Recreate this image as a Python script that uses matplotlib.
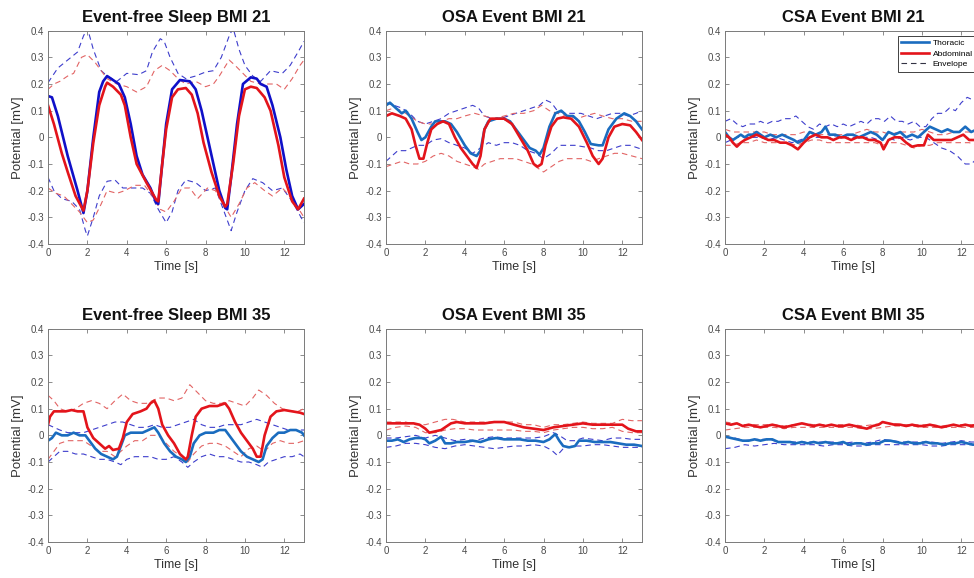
import numpy as np
import matplotlib
matplotlib.use("Agg")
import matplotlib.pyplot as plt

plt.rcParams['font.family'] = ['Liberation Sans', 'DejaVu Sans']

#---------------- values (time [s], potential [mV]) ----------------#

# Event-free Sleep BMI 21
ef21_tho = [(0, 0.155), (0.2, 0.15), (0.5, 0.08), (1.0, -0.07), (1.5, -0.2), (1.8, -0.284), (2.0, -0.2),
            (2.3, 0.0), (2.6, 0.17), (2.8, 0.21), (3.0, 0.23), (3.2, 0.22), (3.6, 0.2), (3.9, 0.15),
            (4.2, 0.05), (4.5, -0.07), (4.8, -0.14), (5.2, -0.19), (5.5, -0.245), (5.6, -0.25),
            (5.8, -0.1), (6.0, 0.05), (6.3, 0.18), (6.7, 0.215), (7.2, 0.21), (7.5, 0.18), (7.8, 0.1),
            (8.1, 0.0), (8.4, -0.1), (8.7, -0.2), (9.0, -0.265), (9.1, -0.27), (9.3, -0.15), (9.6, 0.05),
            (9.9, 0.2), (10.3, 0.225), (10.6, 0.22), (10.8, 0.2), (11.1, 0.19), (11.4, 0.12), (11.8, 0.0),
            (12.1, -0.12), (12.4, -0.22), (12.7, -0.27), (13.0, -0.25)]
ef21_abd = [(0, 0.12), (0.3, 0.05), (0.7, -0.06), (1.0, -0.13), (1.4, -0.22), (1.8, -0.275), (2.0, -0.2),
            (2.3, -0.02), (2.6, 0.12), (2.9, 0.19), (3.0, 0.205), (3.3, 0.19), (3.7, 0.16), (3.9, 0.12),
            (4.2, 0.0), (4.5, -0.1), (5.0, -0.17), (5.5, -0.235), (5.6, -0.24), (5.8, -0.1), (6.0, 0.03),
            (6.3, 0.15), (6.6, 0.18), (7.0, 0.185), (7.3, 0.16), (7.6, 0.09), (7.9, -0.02), (8.3, -0.13),
            (8.7, -0.22), (9.0, -0.26), (9.1, -0.25), (9.4, -0.1), (9.7, 0.08), (10.0, 0.18), (10.3, 0.19),
            (10.6, 0.185), (11.0, 0.15), (11.3, 0.1), (11.7, -0.03), (12.0, -0.15), (12.4, -0.24),
            (12.7, -0.27), (13.0, -0.23)]
ef21_tho_up = [(0, 0.205), (0.5, 0.26), (1.0, 0.29), (1.5, 0.32), (1.8, 0.38), (2.0, 0.41), (2.3, 0.33),
               (2.7, 0.25), (3.0, 0.23), (3.5, 0.21), (4.0, 0.24), (4.6, 0.235), (5.0, 0.25), (5.3, 0.32),
               (5.7, 0.37), (5.9, 0.36), (6.2, 0.3), (6.6, 0.24), (7.0, 0.22), (7.5, 0.23), (8.0, 0.245),
               (8.4, 0.25), (8.8, 0.3), (9.2, 0.38), (9.4, 0.41), (9.7, 0.33), (10.0, 0.27), (10.4, 0.23),
               (10.8, 0.21), (11.3, 0.25), (11.9, 0.24), (12.3, 0.27), (12.7, 0.32), (13.0, 0.36)]
ef21_tho_lo = [(0, -0.15), (0.3, -0.2), (0.7, -0.23), (1.2, -0.24), (1.6, -0.27), (1.9, -0.35), (2.0, -0.37),
               (2.3, -0.3), (2.6, -0.22), (3.0, -0.165), (3.4, -0.16), (3.8, -0.19), (4.3, -0.19),
               (4.8, -0.19), (5.2, -0.21), (5.6, -0.27), (6.0, -0.32), (6.3, -0.28), (6.6, -0.2),
               (7.0, -0.16), (7.5, -0.17), (8.0, -0.2), (8.5, -0.19), (8.9, -0.27), (9.3, -0.35),
               (9.6, -0.28), (10.0, -0.2), (10.4, -0.155), (10.9, -0.17), (11.4, -0.2), (11.9, -0.19),
               (12.4, -0.24), (13.0, -0.32)]
ef21_abd_up = [(0, 0.18), (0.3, 0.2), (0.6, 0.21), (1.0, 0.23), (1.3, 0.24), (1.7, 0.3), (2.0, 0.31),
               (2.4, 0.28), (2.7, 0.25), (3.0, 0.22), (3.5, 0.2), (4.0, 0.19), (4.5, 0.17), (5.0, 0.19),
               (5.4, 0.25), (5.8, 0.27), (6.2, 0.25), (6.6, 0.22), (7.0, 0.2), (7.5, 0.21), (8.0, 0.19),
               (8.4, 0.2), (8.7, 0.23), (9.2, 0.29), (9.5, 0.27), (9.9, 0.24), (10.3, 0.21), (10.8, 0.2),
               (11.2, 0.2), (11.6, 0.2), (12.0, 0.18), (12.4, 0.22), (12.8, 0.27), (13.0, 0.29)]
ef21_abd_lo = [(0, -0.19), (0.4, -0.21), (0.8, -0.22), (1.2, -0.25), (1.6, -0.28), (2.0, -0.32),
               (2.3, -0.31), (2.7, -0.25), (3.0, -0.2), (3.5, -0.21), (3.9, -0.2), (4.4, -0.18),
               (4.9, -0.18), (5.3, -0.22), (5.7, -0.27), (6.0, -0.28), (6.4, -0.24), (6.8, -0.19),
               (7.2, -0.19), (7.6, -0.23), (8.1, -0.19), (8.5, -0.2), (8.9, -0.25), (9.3, -0.3),
               (9.7, -0.25), (10.1, -0.19), (10.5, -0.17), (11.0, -0.2), (11.4, -0.22), (11.9, -0.19),
               (12.4, -0.23), (13.0, -0.3)]

# OSA Event BMI 21
osa21_tho = [(0, 0.12), (0.2, 0.13), (0.5, 0.11), (0.8, 0.09), (1.0, 0.1), (1.3, 0.07), (1.6, 0.02),
             (1.8, -0.01), (2.0, 0.0), (2.3, 0.04), (2.5, 0.06), (2.8, 0.06), (3.0, 0.06), (3.3, 0.05),
             (3.6, 0.02), (4.0, -0.03), (4.3, -0.06), (4.6, -0.07), (4.8, -0.05), (5.0, 0.03), (5.2, 0.06),
             (5.6, 0.07), (6.0, 0.07), (6.3, 0.06), (6.6, 0.03), (7.0, -0.01), (7.3, -0.04), (7.6, -0.05),
             (7.8, -0.065), (8.0, -0.04), (8.3, 0.04), (8.6, 0.09), (8.9, 0.1), (9.2, 0.08), (9.5, 0.08),
             (9.8, 0.06), (10.1, 0.02), (10.4, -0.025), (10.8, -0.03), (11.0, -0.03), (11.3, 0.03),
             (11.7, 0.07), (12.1, 0.09), (12.4, 0.08), (12.7, 0.06), (13.0, 0.03)]
osa21_abd = [(0, 0.08), (0.3, 0.09), (0.7, 0.08), (1.0, 0.07), (1.3, 0.03), (1.5, -0.03), (1.7, -0.08),
             (1.9, -0.08), (2.1, -0.02), (2.3, 0.03), (2.6, 0.05), (2.9, 0.06), (3.2, 0.05), (3.5, 0.0),
             (3.8, -0.04), (4.1, -0.07), (4.4, -0.1), (4.6, -0.115), (4.8, -0.07), (5.0, 0.03), (5.3, 0.07),
             (5.6, 0.07), (6.0, 0.07), (6.4, 0.05), (6.8, 0.0), (7.2, -0.05), (7.5, -0.1), (7.7, -0.11),
             (7.9, -0.1), (8.1, -0.03), (8.4, 0.04), (8.7, 0.07), (9.0, 0.075), (9.4, 0.07), (9.8, 0.04),
             (10.2, -0.02), (10.5, -0.07), (10.8, -0.1), (11.0, -0.08), (11.3, 0.0), (11.6, 0.04),
             (12.0, 0.05), (12.4, 0.045), (12.7, 0.02), (13.0, -0.01)]
osa21_tho_up = [(0, 0.13), (0.4, 0.12), (0.8, 0.11), (1.2, 0.09), (1.6, 0.06), (2.0, 0.05), (2.4, 0.06),
                (2.8, 0.07), (3.2, 0.09), (3.6, 0.1), (4.0, 0.11), (4.4, 0.12), (4.7, 0.11), (5.0, 0.08),
                (5.4, 0.07), (5.8, 0.07), (6.2, 0.08), (6.6, 0.09), (7.0, 0.1), (7.4, 0.11), (7.8, 0.12),
                (8.1, 0.14), (8.4, 0.13), (8.7, 0.1), (9.1, 0.09), (9.5, 0.09), (9.9, 0.09), (10.3, 0.08),
                (10.7, 0.07), (11.1, 0.08), (11.5, 0.09), (11.9, 0.09), (12.3, 0.08), (12.7, 0.09), (13.0, 0.1)]
osa21_tho_lo = [(0, -0.09), (0.3, -0.07), (0.6, -0.05), (1.0, -0.05), (1.3, -0.04), (1.6, -0.03),
                (2.0, -0.03), (2.4, -0.01), (2.8, -0.005), (3.2, -0.02), (3.6, -0.03), (4.0, -0.04),
                (4.4, -0.06), (4.8, -0.04), (5.2, -0.02), (5.6, -0.03), (6.0, -0.02), (6.4, -0.02),
                (6.8, -0.03), (7.2, -0.05), (7.6, -0.06), (8.0, -0.08), (8.4, -0.06), (8.8, -0.03),
                (9.2, -0.03), (9.6, -0.03), (10.0, -0.035), (10.4, -0.04), (10.8, -0.05), (11.2, -0.05),
                (11.6, -0.04), (12.0, -0.03), (12.4, -0.03), (12.8, -0.04), (13.0, -0.045)]
osa21_abd_up = [(0, 0.1), (0.4, 0.11), (0.8, 0.1), (1.2, 0.08), (1.6, 0.06), (2.0, 0.05), (2.4, 0.05),
                (2.8, 0.06), (3.2, 0.07), (3.6, 0.07), (4.0, 0.08), (4.5, 0.09), (5.0, 0.08), (5.5, 0.07),
                (6.0, 0.08), (6.5, 0.09), (7.0, 0.09), (7.5, 0.1), (7.9, 0.12), (8.3, 0.1), (8.7, 0.09),
                (9.2, 0.08), (9.7, 0.07), (10.1, 0.08), (10.6, 0.09), (11.0, 0.08), (11.5, 0.07),
                (12.0, 0.07), (12.5, 0.06), (13.0, 0.06)]
osa21_abd_lo = [(0, -0.11), (0.4, -0.1), (0.8, -0.09), (1.2, -0.1), (1.6, -0.1), (2.0, -0.09), (2.4, -0.07),
                (2.8, -0.06), (3.2, -0.07), (3.6, -0.09), (4.0, -0.1), (4.4, -0.11), (4.7, -0.12),
                (5.0, -0.1), (5.4, -0.09), (5.8, -0.08), (6.2, -0.08), (6.6, -0.08), (7.0, -0.09),
                (7.4, -0.1), (7.8, -0.12), (8.0, -0.13), (8.4, -0.11), (8.8, -0.09), (9.2, -0.08),
                (9.6, -0.08), (10.0, -0.08), (10.4, -0.09), (10.8, -0.08), (11.2, -0.07), (11.6, -0.06),
                (12.0, -0.06), (12.5, -0.07), (13.0, -0.08)]

# CSA Event BMI 21
csa21_tho = [(0, 0.02), (0.2, 0.0), (0.4, -0.01), (0.6, 0.0), (0.8, 0.01), (1.0, 0.0), (1.2, 0.01),
             (1.4, 0.01), (1.6, 0.02), (1.8, 0.01), (2.0, 0.0), (2.3, 0.01), (2.6, 0.0), (2.9, 0.01),
             (3.2, 0.0), (3.5, -0.01), (3.7, -0.02), (4.0, -0.01), (4.3, 0.02), (4.6, 0.01), (4.9, 0.02),
             (5.1, 0.04), (5.3, 0.01), (5.6, 0.01), (5.9, 0.0), (6.2, 0.01), (6.5, 0.01), (6.8, 0.0),
             (7.1, 0.01), (7.4, 0.02), (7.7, 0.01), (8.0, -0.01), (8.3, 0.02), (8.6, 0.01), (8.9, 0.02),
             (9.2, 0.0), (9.5, 0.01), (9.8, 0.0), (10.1, 0.02), (10.4, 0.04), (10.7, 0.03), (11.0, 0.02),
             (11.3, 0.03), (11.6, 0.02), (11.9, 0.02), (12.2, 0.04), (12.5, 0.02), (12.8, 0.03), (13.0, 0.02)]
csa21_abd = [(0, 0.01), (0.2, 0.0), (0.4, -0.02), (0.6, -0.035), (0.8, -0.02), (1.0, -0.01), (1.3, 0.0),
             (1.6, 0.01), (1.9, 0.0), (2.2, -0.01), (2.5, -0.01), (2.8, -0.02), (3.1, -0.02), (3.4, -0.03),
             (3.7, -0.045), (4.0, -0.02), (4.3, 0.0), (4.6, 0.01), (4.9, 0.0), (5.2, 0.0), (5.5, -0.01),
             (5.8, 0.0), (6.1, 0.0), (6.4, -0.01), (6.7, 0.0), (7.0, 0.0), (7.3, -0.01), (7.6, -0.01),
             (7.9, -0.02), (8.05, -0.045), (8.3, -0.01), (8.6, 0.0), (8.9, 0.0), (9.2, -0.02), (9.5, -0.035),
             (9.8, -0.03), (10.1, -0.03), (10.3, 0.01), (10.6, -0.01), (10.9, -0.01), (11.2, -0.01),
             (11.5, -0.01), (11.8, 0.0), (12.1, 0.01), (12.4, -0.01), (12.7, -0.01), (13.0, 0.0)]
csa21_tho_up = [(0, 0.06), (0.3, 0.07), (0.6, 0.05), (0.9, 0.04), (1.2, 0.05), (1.5, 0.05), (1.8, 0.06),
                (2.1, 0.05), (2.4, 0.06), (2.7, 0.06), (3.0, 0.07), (3.3, 0.07), (3.6, 0.08), (3.9, 0.06),
                (4.2, 0.04), (4.5, 0.03), (4.8, 0.05), (5.1, 0.04), (5.4, 0.05), (5.7, 0.04), (6.0, 0.05),
                (6.3, 0.04), (6.6, 0.05), (6.9, 0.06), (7.2, 0.05), (7.5, 0.07), (7.8, 0.07), (8.1, 0.06),
                (8.4, 0.08), (8.7, 0.06), (9.0, 0.06), (9.3, 0.05), (9.6, 0.06), (9.9, 0.04), (10.2, 0.04),
                (10.5, 0.07), (10.8, 0.09), (11.1, 0.09), (11.4, 0.11), (11.7, 0.1), (12.0, 0.13),
                (12.3, 0.15), (12.6, 0.14), (13.0, 0.16)]
csa21_tho_lo = [(0, -0.02), (0.3, -0.01), (0.6, 0.0), (1.0, 0.0), (1.4, 0.0), (1.8, 0.0), (2.2, -0.01),
                (2.6, 0.0), (3.0, -0.01), (3.4, -0.02), (3.8, -0.01), (4.2, 0.0), (4.6, 0.0), (5.0, 0.0),
                (5.4, 0.0), (5.8, 0.01), (6.2, 0.0), (6.6, 0.0), (7.0, 0.0), (7.4, 0.0), (7.8, -0.01),
                (8.2, 0.0), (8.6, -0.01), (9.0, 0.0), (9.4, -0.01), (9.8, 0.0), (10.2, 0.0), (10.6, -0.02),
                (11.0, -0.04), (11.4, -0.05), (11.8, -0.07), (12.2, -0.1), (12.5, -0.1), (12.8, -0.08),
                (13.0, -0.1)]
csa21_abd_up = [(0, 0.03), (0.4, 0.02), (0.8, 0.02), (1.2, 0.02), (1.6, 0.02), (2.0, 0.02), (2.4, 0.01),
                (2.8, 0.01), (3.2, 0.01), (3.6, 0.01), (4.0, 0.02), (4.4, 0.02), (4.8, 0.01), (5.2, 0.01),
                (5.6, 0.01), (6.0, 0.01), (6.4, 0.01), (6.8, 0.02), (7.2, 0.03), (7.6, 0.02), (8.0, 0.02),
                (8.4, 0.01), (8.8, 0.02), (9.2, 0.02), (9.6, 0.02), (10.0, 0.03), (10.4, 0.02), (10.8, 0.01),
                (11.2, 0.01), (11.6, 0.02), (12.0, 0.02), (12.4, 0.02), (12.8, 0.01), (13.0, 0.01)]
csa21_abd_lo = [(0, -0.03), (0.4, -0.03), (0.8, -0.02), (1.2, -0.02), (1.6, -0.01), (2.0, -0.02),
                (2.4, -0.02), (2.8, -0.02), (3.2, -0.02), (3.6, -0.03), (4.0, -0.02), (4.4, -0.01),
                (4.8, -0.01), (5.2, -0.02), (5.6, -0.02), (6.0, -0.02), (6.4, -0.02), (6.8, -0.02),
                (7.2, -0.02), (7.6, -0.02), (8.0, -0.03), (8.4, -0.02), (8.8, -0.02), (9.2, -0.03),
                (9.6, -0.04), (10.0, -0.03), (10.4, -0.03), (10.8, -0.02), (11.2, -0.02), (11.6, -0.02),
                (12.0, -0.02), (12.4, -0.02), (12.8, -0.03), (13.0, -0.03)]

# Event-free Sleep BMI 35
ef35_tho = [(0, -0.02), (0.2, -0.01), (0.4, 0.01), (0.7, 0.0), (1.0, 0.0), (1.3, 0.01), (1.6, 0.0),
            (1.9, 0.0), (2.1, -0.02), (2.4, -0.05), (2.7, -0.07), (3.0, -0.08), (3.3, -0.09), (3.5, -0.08),
            (3.7, -0.04), (3.9, 0.0), (4.2, 0.01), (4.5, 0.01), (4.8, 0.01), (5.1, 0.02), (5.4, 0.03),
            (5.6, 0.01), (5.9, -0.03), (6.2, -0.06), (6.5, -0.08), (6.8, -0.09), (7.0, -0.1), (7.2, -0.08),
            (7.4, -0.03), (7.7, 0.0), (8.0, 0.01), (8.4, 0.01), (8.7, 0.02), (9.0, 0.02), (9.2, 0.0),
            (9.5, -0.03), (9.8, -0.06), (10.1, -0.08), (10.4, -0.09), (10.7, -0.1), (10.9, -0.09),
            (11.1, -0.04), (11.4, -0.01), (11.7, 0.01), (12.0, 0.01), (12.3, 0.02), (12.6, 0.02),
            (12.9, 0.01), (13.0, 0.0)]
ef35_abd = [(0, 0.04), (0.1, 0.07), (0.3, 0.09), (0.6, 0.09), (0.9, 0.09), (1.2, 0.095), (1.5, 0.09),
            (1.8, 0.09), (2.0, 0.03), (2.3, -0.01), (2.6, -0.03), (2.9, -0.05), (3.1, -0.04), (3.3, -0.055),
            (3.6, -0.05), (3.8, -0.01), (4.0, 0.05), (4.3, 0.08), (4.7, 0.09), (5.0, 0.1), (5.2, 0.12),
            (5.4, 0.13), (5.6, 0.1), (5.8, 0.04), (6.1, 0.0), (6.4, -0.03), (6.7, -0.07), (7.0, -0.09),
            (7.1, -0.08), (7.3, 0.0), (7.5, 0.07), (7.8, 0.1), (8.2, 0.11), (8.6, 0.11), (9.0, 0.12),
            (9.2, 0.1), (9.5, 0.05), (9.8, 0.01), (10.1, -0.02), (10.4, -0.05), (10.6, -0.08),
            (10.8, -0.08), (11.0, 0.0), (11.3, 0.07), (11.6, 0.09), (12.0, 0.095), (12.4, 0.09),
            (12.8, 0.085), (13.0, 0.08)]
ef35_tho_up = [(0, 0.04), (0.3, 0.03), (0.6, 0.02), (1.0, 0.01), (1.4, 0.01), (1.8, 0.01), (2.2, 0.02),
               (2.6, 0.03), (3.0, 0.04), (3.4, 0.05), (3.8, 0.05), (4.2, 0.04), (4.6, 0.03), (5.0, 0.03),
               (5.4, 0.04), (5.8, 0.03), (6.2, 0.03), (6.6, 0.04), (7.0, 0.05), (7.4, 0.06), (7.8, 0.04),
               (8.2, 0.03), (8.6, 0.03), (9.0, 0.04), (9.4, 0.04), (9.8, 0.04), (10.2, 0.05), (10.6, 0.06),
               (11.0, 0.05), (11.4, 0.04), (11.8, 0.03), (12.2, 0.02), (12.6, 0.02), (13.0, 0.02)]
ef35_tho_lo = [(0, -0.1), (0.3, -0.08), (0.6, -0.06), (1.0, -0.06), (1.4, -0.07), (1.8, -0.07),
               (2.2, -0.08), (2.6, -0.09), (3.0, -0.09), (3.4, -0.1), (3.7, -0.11), (4.0, -0.09),
               (4.4, -0.08), (4.8, -0.08), (5.2, -0.08), (5.6, -0.09), (6.0, -0.09), (6.4, -0.08),
               (6.8, -0.1), (7.1, -0.12), (7.4, -0.1), (7.8, -0.08), (8.2, -0.07), (8.6, -0.08),
               (9.0, -0.08), (9.4, -0.09), (9.8, -0.1), (10.2, -0.1), (10.6, -0.11), (10.9, -0.12),
               (11.2, -0.1), (11.6, -0.09), (12.0, -0.08), (12.4, -0.08), (12.8, -0.07), (13.0, -0.08)]
ef35_abd_up = [(0, 0.15), (0.3, 0.13), (0.6, 0.1), (1.0, 0.09), (1.4, 0.1), (1.8, 0.12), (2.2, 0.13),
               (2.6, 0.12), (3.0, 0.1), (3.4, 0.13), (3.8, 0.155), (4.2, 0.13), (4.6, 0.12), (5.0, 0.12),
               (5.3, 0.13), (5.6, 0.14), (6.0, 0.14), (6.4, 0.13), (6.8, 0.14), (7.2, 0.19), (7.6, 0.16),
               (8.0, 0.13), (8.4, 0.12), (8.8, 0.12), (9.2, 0.13), (9.6, 0.12), (10.0, 0.11), (10.4, 0.14),
               (10.7, 0.17), (11.1, 0.15), (11.5, 0.12), (11.9, 0.1), (12.3, 0.09), (12.7, 0.09), (13.0, 0.1)]
ef35_abd_lo = [(0, -0.09), (0.3, -0.06), (0.6, -0.03), (1.0, -0.02), (1.4, -0.02), (1.8, -0.02),
               (2.2, -0.04), (2.6, -0.06), (3.0, -0.06), (3.4, -0.08), (3.7, -0.06), (4.0, -0.04),
               (4.4, -0.02), (4.8, -0.02), (5.2, 0.0), (5.6, 0.0), (6.0, -0.03), (6.4, -0.06), (6.8, -0.08),
               (7.1, -0.1), (7.4, -0.07), (7.8, -0.04), (8.2, -0.03), (8.6, -0.03), (9.0, -0.04),
               (9.4, -0.06), (9.8, -0.08), (10.2, -0.05), (10.6, -0.04), (11.0, -0.06), (11.4, -0.03),
               (11.8, -0.02), (12.2, -0.03), (12.6, -0.03), (13.0, -0.02)]

# OSA Event BMI 35
osa35_tho = [(0, -0.02), (0.3, -0.02), (0.6, -0.015), (0.9, -0.025), (1.2, -0.015), (1.5, -0.01),
             (1.8, -0.01), (2.0, -0.015), (2.2, -0.03), (2.5, -0.02), (2.8, -0.005), (3.0, -0.03),
             (3.3, -0.03), (3.6, -0.025), (4.0, -0.025), (4.4, -0.02), (4.8, -0.025), (5.2, -0.015),
             (5.6, -0.01), (6.0, -0.015), (6.4, -0.015), (6.8, -0.015), (7.2, -0.02), (7.6, -0.02),
             (8.0, -0.025), (8.3, -0.015), (8.6, 0.005), (8.8, -0.02), (9.0, -0.04), (9.3, -0.045),
             (9.6, -0.04), (9.8, -0.02), (10.2, -0.02), (10.6, -0.025), (11.0, -0.025), (11.4, -0.025),
             (11.8, -0.03), (12.2, -0.035), (12.6, -0.035), (13.0, -0.04)]
osa35_abd = [(0, 0.045), (0.5, 0.045), (1.0, 0.045), (1.4, 0.045), (1.7, 0.04), (2.0, 0.025), (2.2, 0.01),
             (2.5, 0.015), (2.8, 0.02), (3.0, 0.03), (3.3, 0.045), (3.6, 0.05), (4.0, 0.045), (4.5, 0.045),
             (5.0, 0.045), (5.5, 0.05), (6.0, 0.05), (6.5, 0.04), (7.0, 0.03), (7.5, 0.025), (8.0, 0.02),
             (8.5, 0.03), (9.0, 0.035), (9.5, 0.04), (10.0, 0.045), (10.5, 0.04), (11.0, 0.04),
             (11.5, 0.04), (12.0, 0.04), (12.3, 0.025), (12.7, 0.015), (13.0, 0.015)]
osa35_tho_up = [(0, -0.01), (0.5, -0.01), (1.0, -0.005), (1.5, 0.0), (2.0, -0.01), (2.5, 0.0), (3.0, -0.01),
                (3.5, -0.02), (4.0, -0.015), (4.5, -0.02), (5.0, -0.01), (5.5, -0.005), (6.0, -0.01),
                (6.5, -0.01), (7.0, -0.01), (7.5, -0.01), (8.0, -0.005), (8.5, 0.01), (8.8, 0.0),
                (9.2, -0.02), (9.6, -0.02), (10.0, -0.01), (10.5, -0.015), (11.0, -0.02), (11.5, -0.01),
                (12.0, -0.01), (12.5, -0.015), (13.0, -0.015)]
osa35_tho_lo = [(0, -0.045), (0.5, -0.04), (1.0, -0.03), (1.5, -0.03), (2.0, -0.035), (2.5, -0.045),
                (3.0, -0.05), (3.5, -0.04), (4.0, -0.035), (4.5, -0.04), (5.0, -0.045), (5.5, -0.05),
                (6.0, -0.045), (6.5, -0.04), (7.0, -0.04), (7.5, -0.035), (8.0, -0.04), (8.4, -0.055),
                (8.7, -0.075), (9.0, -0.05), (9.5, -0.04), (10.0, -0.04), (10.5, -0.035), (11.0, -0.035),
                (11.5, -0.04), (12.0, -0.045), (12.5, -0.045), (13.0, -0.045)]
osa35_abd_up = [(0, 0.05), (0.5, 0.05), (1.0, 0.05), (1.5, 0.04), (2.0, 0.04), (2.5, 0.05), (3.0, 0.06),
                (3.4, 0.06), (4.0, 0.05), (4.5, 0.05), (5.0, 0.05), (5.5, 0.05), (6.0, 0.05), (6.5, 0.05),
                (7.0, 0.04), (7.5, 0.04), (8.0, 0.03), (8.5, 0.04), (9.0, 0.04), (9.5, 0.045), (10.0, 0.05),
                (10.5, 0.045), (11.0, 0.045), (11.5, 0.045), (12.0, 0.06), (12.5, 0.055), (13.0, 0.055)]
osa35_abd_lo = [(0, 0.02), (0.5, 0.03), (1.0, 0.035), (1.5, 0.03), (2.0, 0.01), (2.5, 0.01), (3.0, 0.02),
                (3.5, 0.025), (4.0, 0.025), (4.5, 0.02), (5.0, 0.02), (5.5, 0.02), (6.0, 0.02), (6.5, 0.02),
                (7.0, 0.015), (7.5, 0.015), (8.0, 0.01), (8.5, 0.02), (9.0, 0.025), (9.5, 0.03), (10.0, 0.03),
                (10.5, 0.025), (11.0, 0.025), (11.5, 0.03), (12.0, 0.015), (12.5, 0.01), (13.0, 0.01)]

# CSA Event BMI 35
csa35_tho = [(0, -0.005), (0.3, -0.01), (0.6, -0.015), (0.9, -0.02), (1.2, -0.02), (1.5, -0.015),
             (1.8, -0.02), (2.1, -0.015), (2.4, -0.015), (2.7, -0.025), (3.0, -0.025), (3.3, -0.025),
             (3.6, -0.03), (3.9, -0.025), (4.2, -0.03), (4.5, -0.025), (4.8, -0.03), (5.1, -0.025),
             (5.4, -0.03), (5.7, -0.03), (6.0, -0.025), (6.3, -0.035), (6.6, -0.03), (6.9, -0.03),
             (7.2, -0.035), (7.5, -0.03), (7.8, -0.03), (8.1, -0.02), (8.4, -0.02), (8.7, -0.025),
             (9.0, -0.03), (9.3, -0.025), (9.6, -0.03), (9.9, -0.03), (10.2, -0.025), (10.5, -0.03),
             (10.8, -0.03), (11.1, -0.035), (11.4, -0.03), (11.7, -0.03), (12.0, -0.025), (12.3, -0.03),
             (12.6, -0.035), (13.0, -0.03)]
csa35_abd = [(0, 0.045), (0.3, 0.04), (0.6, 0.045), (0.9, 0.035), (1.2, 0.04), (1.5, 0.035), (1.8, 0.03),
             (2.1, 0.035), (2.4, 0.04), (2.7, 0.035), (3.0, 0.03), (3.3, 0.035), (3.6, 0.04), (3.9, 0.045),
             (4.2, 0.04), (4.5, 0.035), (4.8, 0.04), (5.1, 0.035), (5.4, 0.04), (5.7, 0.035), (6.0, 0.035),
             (6.3, 0.04), (6.6, 0.035), (6.9, 0.03), (7.2, 0.025), (7.5, 0.035), (7.8, 0.04), (8.0, 0.05),
             (8.3, 0.045), (8.6, 0.04), (8.9, 0.04), (9.2, 0.035), (9.5, 0.04), (9.8, 0.035), (10.1, 0.035),
             (10.4, 0.04), (10.7, 0.035), (11.0, 0.03), (11.3, 0.035), (11.6, 0.04), (11.9, 0.035),
             (12.2, 0.04), (12.5, 0.035), (12.8, 0.04), (13.0, 0.035)]
csa35_tho_up = [(0, -0.005), (0.5, -0.01), (1.0, -0.02), (1.5, -0.015), (2.0, -0.015), (2.5, -0.02),
                (3.0, -0.025), (3.5, -0.025), (4.0, -0.025), (4.5, -0.025), (5.0, -0.025), (5.5, -0.025),
                (6.0, -0.03), (6.5, -0.025), (7.0, -0.03), (7.5, -0.025), (8.0, -0.015), (8.5, -0.02),
                (9.0, -0.025), (9.5, -0.025), (10.0, -0.025), (10.5, -0.025), (11.0, -0.03), (11.5, -0.025),
                (12.0, -0.02), (12.5, -0.025), (13.0, -0.025)]
csa35_tho_lo = [(0, -0.05), (0.5, -0.045), (1.0, -0.035), (1.5, -0.04), (2.0, -0.035), (2.5, -0.03),
                (3.0, -0.035), (3.5, -0.035), (4.0, -0.035), (4.5, -0.035), (5.0, -0.04), (5.5, -0.035),
                (6.0, -0.035), (6.5, -0.04), (7.0, -0.04), (7.5, -0.035), (8.0, -0.035), (8.5, -0.035),
                (9.0, -0.035), (9.5, -0.035), (10.0, -0.035), (10.5, -0.04), (11.0, -0.04), (11.5, -0.035),
                (12.0, -0.035), (12.5, -0.035), (13.0, -0.04)]
csa35_abd_up = [(0, 0.05), (0.5, 0.045), (1.0, 0.04), (1.5, 0.04), (2.0, 0.04), (2.5, 0.04), (3.0, 0.035),
                (3.5, 0.04), (4.0, 0.045), (4.5, 0.04), (5.0, 0.04), (5.5, 0.04), (6.0, 0.04), (6.5, 0.04),
                (7.0, 0.035), (7.5, 0.04), (8.0, 0.045), (8.5, 0.045), (9.0, 0.04), (9.5, 0.04), (10.0, 0.04),
                (10.5, 0.04), (11.0, 0.035), (11.5, 0.04), (12.0, 0.04), (12.5, 0.04), (13.0, 0.04)]
csa35_abd_lo = [(0, 0.02), (0.5, 0.025), (1.0, 0.03), (1.5, 0.03), (2.0, 0.03), (2.5, 0.03), (3.0, 0.025),
                (3.5, 0.03), (4.0, 0.03), (4.5, 0.03), (5.0, 0.03), (5.5, 0.03), (6.0, 0.03), (6.5, 0.03),
                (7.0, 0.025), (7.5, 0.025), (8.0, 0.03), (8.5, 0.035), (9.0, 0.035), (9.5, 0.035), (10.0, 0.03),
                (10.5, 0.03), (11.0, 0.03), (11.5, 0.03), (12.0, 0.03), (12.5, 0.03), (13.0, 0.03)]

titles = ['Event-free Sleep BMI 21', 'OSA Event BMI 21', 'CSA Event BMI 21',
          'Event-free Sleep BMI 35', 'OSA Event BMI 35', 'CSA Event BMI 35']
panels = [
    (ef21_tho, ef21_abd, ef21_tho_up, ef21_tho_lo, ef21_abd_up, ef21_abd_lo),
    (osa21_tho, osa21_abd, osa21_tho_up, osa21_tho_lo, osa21_abd_up, osa21_abd_lo),
    (csa21_tho, csa21_abd, csa21_tho_up, csa21_tho_lo, csa21_abd_up, csa21_abd_lo),
    (ef35_tho, ef35_abd, ef35_tho_up, ef35_tho_lo, ef35_abd_up, ef35_abd_lo),
    (osa35_tho, osa35_abd, osa35_tho_up, osa35_tho_lo, osa35_abd_up, osa35_abd_lo),
    (csa35_tho, csa35_abd, csa35_tho_up, csa35_tho_lo, csa35_abd_up, csa35_abd_lo),
]
y_ticks = [-0.4, -0.3, -0.2, -0.1, 0, 0.1, 0.2, 0.3, 0.4]
y_ticklabels = ['-0.4', '-0.3', '-0.2', '-0.1', '0', '0.1', '0.2', '0.3', '0.4']
x_ticks = [0, 2, 4, 6, 8, 10, 12]

#---------------- styles ----------------#
THO_FIRST = '#1010c8'   # first panel uses plain blue
THO = '#1a6cbf'
ABD = '#e3141b'
ENV_THO = '#3d3dcc'
ENV_ABD = '#e26464'
AX_COL = '#7a7a7a'
TXT_COL = '#4a4a4a'

# axes positions in figure fraction (third column runs past the right edge like the source)
lefts = [0.0493, 0.3963, 0.7444]
bottoms = [0.5779, 0.0623]
w, h = 0.2628, 0.3690


def xy(pairs):
    arr = np.array(pairs)
    return arr[:, 0], arr[:, 1]


fig = plt.figure(figsize=(9.74, 5.78), dpi=100)

for i, (title, series) in enumerate(zip(titles, panels)):
    row, col = divmod(i, 3)
    ax = fig.add_axes([lefts[col], bottoms[row], w, h])
    tho, abd, tho_up, tho_lo, abd_up, abd_lo = series

    tcol = THO_FIRST if i == 0 else THO
    for env in (tho_up, tho_lo):
        ax.plot(*xy(env), color=ENV_THO, lw=0.8, dashes=(5, 3.5))
    for env in (abd_up, abd_lo):
        ax.plot(*xy(env), color=ENV_ABD, lw=0.8, dashes=(5, 3.5))
    l_tho, = ax.plot(*xy(tho), color=tcol, lw=1.9, label='Thoracic')
    l_abd, = ax.plot(*xy(abd), color=ABD, lw=1.9, label='Abdominal')

    ax.set_xlim(0, 13)
    ax.set_ylim(-0.4, 0.4)
    ax.set_xticks(x_ticks)
    ax.set_xticklabels([str(t) for t in x_ticks])
    ax.set_yticks(y_ticks)
    ax.set_yticklabels(y_ticklabels)
    ax.tick_params(direction='in', length=3, width=0.6, colors=AX_COL, labelcolor=TXT_COL,
                   labelsize=7, top=True, right=True, pad=3)
    for sp in ax.spines.values():
        sp.set_color(AX_COL)
        sp.set_linewidth(0.7)

    ax.set_title(title, fontsize=12, fontweight='bold', color='#111111', pad=6.5)
    ax.set_xlabel('Time [s]', fontsize=9, color='#333333', labelpad=2)
    ax.set_ylabel('Potential [mV]', fontsize=9.5, color='#333333', labelpad=2)

    if i == 2:
        env_handle, = ax.plot([], [], color='#333344', lw=0.8, dashes=(5, 3.5), label='Envelope')
        leg = ax.legend(handles=[l_tho, l_abd, env_handle], loc='upper right', fontsize=6,
                        frameon=True, fancybox=False, edgecolor='#222222', framealpha=1,
                        handlelength=3.4, labelspacing=0.35, borderpad=0.4, handletextpad=0.4,
                        borderaxespad=0.6)
        leg.get_frame().set_linewidth(0.6)

fig.savefig('out.png', dpi=100)
